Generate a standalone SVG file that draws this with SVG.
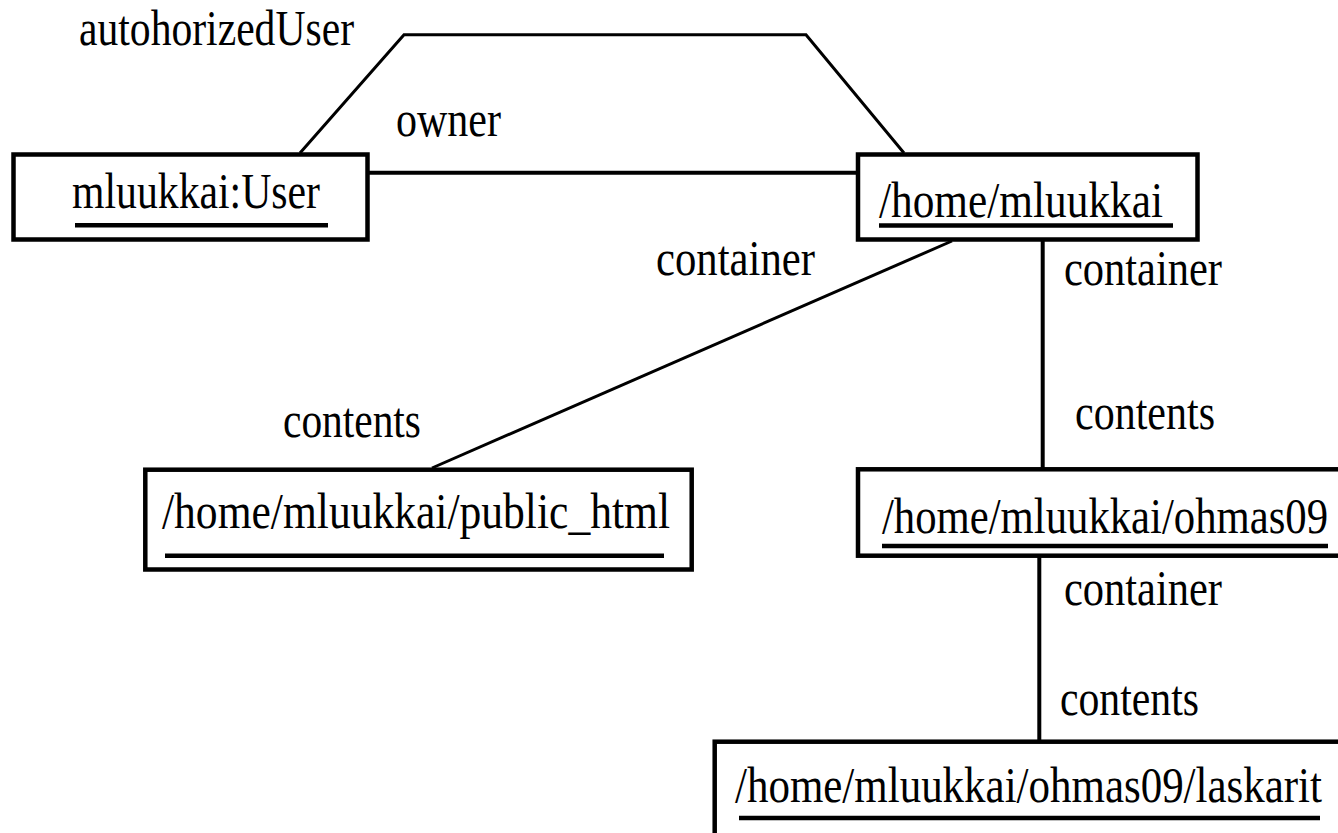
<svg xmlns="http://www.w3.org/2000/svg" width="1338" height="833" viewBox="0 0 1338 833">
<style>
.box{fill:#fff;stroke:#000;stroke-width:4.5}
.ul{stroke:#000;stroke-width:4.5}
.ln{fill:none;stroke:#000;stroke-width:4}
.dg{fill:none;stroke:#000;stroke-width:3}
text{font-family:"Liberation Serif","Times New Roman",serif;font-size:50px;fill:#000}
</style>
<rect width="1338" height="833" fill="#fff"/>
<g id="connectors">
<polyline class="dg" points="300,153 404,34.7 806,34.7 904,153"/>
<line class="ln" x1="367.5" y1="172.7" x2="858" y2="172.7"/>
<line class="dg" x1="952" y1="241" x2="432" y2="468"/>
<line class="ln" x1="1042.7" y1="241" x2="1042.7" y2="468"/>
<line class="ln" x1="1039.3" y1="556" x2="1039.3" y2="741"/>
<text textLength="275" lengthAdjust="spacingAndGlyphs" x="79" y="45">autohorizedUser</text>
<text textLength="105" lengthAdjust="spacingAndGlyphs" x="396" y="136">owner</text>
<text textLength="159" lengthAdjust="spacingAndGlyphs" x="656" y="275">container</text>
<text textLength="138" lengthAdjust="spacingAndGlyphs" x="283" y="437">contents</text>
<text textLength="158" lengthAdjust="spacingAndGlyphs" x="1064" y="285">container</text>
<text textLength="140" lengthAdjust="spacingAndGlyphs" x="1075" y="429">contents</text>
<text textLength="158" lengthAdjust="spacingAndGlyphs" x="1064" y="605">container</text>
<text textLength="139" lengthAdjust="spacingAndGlyphs" x="1060" y="715">contents</text>
</g>
<g id="user">
<rect class="box" x="13.5" y="154.5" width="354" height="85"/>
<text textLength="248" lengthAdjust="spacingAndGlyphs" x="72" y="208">mluukkai:User</text>
<line class="ul" x1="75" y1="225.3" x2="328" y2="225.3"/>
</g>
<g id="home">
<rect class="box" x="858" y="154.5" width="339.5" height="85"/>
<text textLength="284" lengthAdjust="spacingAndGlyphs" x="879" y="217">/home/mluukkai</text>
<line class="ul" x1="879" y1="225.5" x2="1173" y2="225.5"/>
</g>
<g id="public_html">
<rect class="box" x="145.3" y="469.7" width="546.4" height="99.8"/>
<text textLength="508" lengthAdjust="spacingAndGlyphs" x="162" y="528">/home/mluukkai/public_html</text>
<line class="ul" x1="165" y1="555.7" x2="664" y2="555.7"/>
</g>
<g id="ohmas09">
<rect class="box" x="858" y="469.3" width="500" height="86.4"/>
<text textLength="446" lengthAdjust="spacingAndGlyphs" x="882" y="533">/home/mluukkai/ohmas09</text>
<line class="ul" x1="882" y1="546" x2="1328" y2="546"/>
</g>
<g id="laskarit">
<rect class="box" x="714.7" y="741.7" width="700" height="200"/>
<text textLength="587" lengthAdjust="spacingAndGlyphs" x="735" y="802">/home/mluukkai/ohmas09/laskarit</text>
<line class="ul" x1="739" y1="818" x2="1320" y2="818"/>
</g>
</svg>
